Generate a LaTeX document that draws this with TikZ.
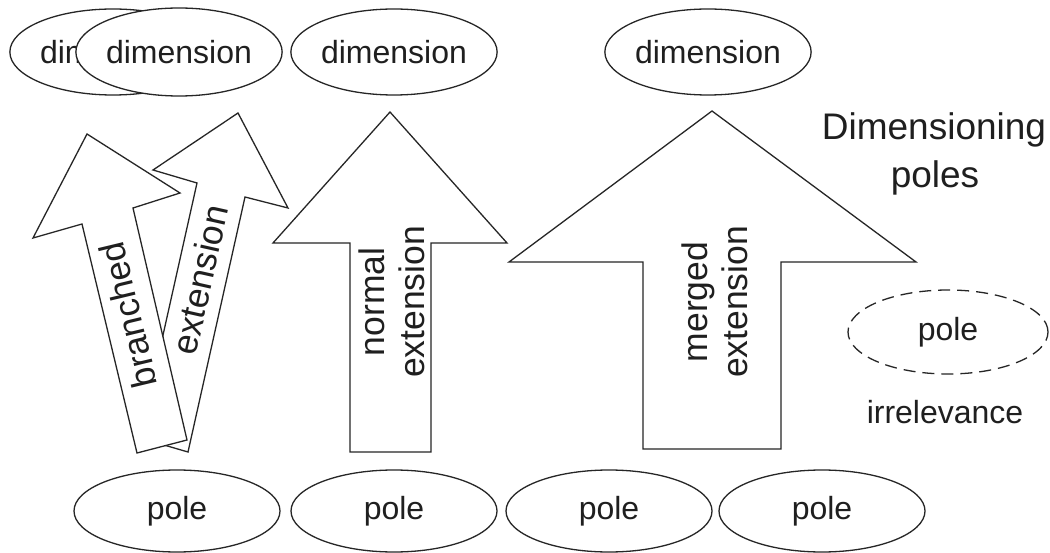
\documentclass[tikz,border=0pt]{standalone}
\usepackage{fontspec}
\setmainfont{Liberation Sans}
\usetikzlibrary{shapes.geometric}
\begin{document}
\begin{tikzpicture}[x=1pt,y=-1pt,
  ln/.style={draw=black!85,line width=1.3pt,line join=miter},
  oval/.style={ellipse,ln,fill=white,inner sep=0pt,minimum width=206pt,minimum height=86pt,
    text=black!88,font=\fontsize{32}{38}\selectfont},
  block/.style={ln,fill=white},
  vlabel/.style={text=black!88,font=\fontsize{35.5}{40}\selectfont,align=center,inner sep=0pt},
  plain/.style={text=black!88,inner sep=0pt}]
\fill[white] (0,0) rectangle (1050,553);
\useasboundingbox (0,0) rectangle (1050,553);
% top ellipses
\node[oval] (dimback) at (113,52) {dimension};
\node[oval,minimum width=202pt,minimum height=88pt] (dimfront) at (179,52) {dimension};
\node[oval] (dimnorm) at (394,52) {dimension};
\node[oval] (dimmerge) at (708,52) {dimension};
% bottom ellipses
\node[oval,minimum height=82pt] (pole1) at (177,511) {pole};
\node[oval,minimum height=82pt] (pole2) at (394,511) {pole};
\node[oval,minimum height=82pt] (pole3) at (609,511) {pole};
\node[oval,minimum height=82pt] (pole4) at (822,511) {pole};
\node[oval,minimum width=200pt,minimum height=84pt,dash pattern=on 12pt off 7pt] (poleirr) at (948,332) {pole};
% branched arrows
\draw[block] (238,113) -- (288,208) -- (245,197) -- (188,452) -- (140,438) -- (197,183) -- (153,170) -- cycle;
\draw[block] (87,134) -- (180,193) -- (133,208) -- (187,440) -- (137,453) -- (82,224) -- (33,238) -- cycle;
\node[vlabel,rotate=77.4] (extlabel) at (200,280) {extension};
\node[vlabel,rotate=103.5] (brlabel) at (128,315) {branched};
% normal extension arrow
\draw[block] (390,112) -- (507,243) -- (431,243) -- (431,452) -- (350,452) -- (350,243) -- (273,243) -- cycle;
\node[vlabel,rotate=90] (normlabel) at (392,302) {normal\\extension};
% merged extension arrow
\draw[block] (712,111) -- (916,262) -- (781,262) -- (781,449) -- (643,449) -- (643,262) -- (509,262) -- cycle;
\node[vlabel,rotate=90] (mergelabel) at (715,302) {merged\\extension};
% titles
\node[plain,anchor=base,font=\fontsize{37}{44}\selectfont] (titleA) at (934,140) {Dimensioning};
\node[plain,anchor=base,font=\fontsize{37}{44}\selectfont] (titleB) at (935,188) {poles};
\node[plain,anchor=base,font=\fontsize{32}{38}\selectfont] (irr) at (945,424) {irrelevance};
\end{tikzpicture}
\end{document}
